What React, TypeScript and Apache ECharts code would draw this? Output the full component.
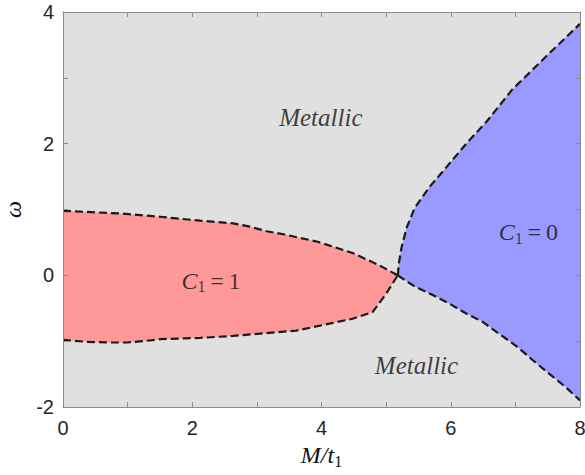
import React, { useEffect, useRef } from 'react';
import * as echarts from 'echarts';

// Phase boundaries (x = M/t1, y = omega)
const redUpperX = [0, 0.88, 1.5, 2.12, 2.63, 2.89, 3.15, 3.43, 3.94, 4.48, 4.9, 5.18];
const redUpperY = [0.98, 0.94, 0.89, 0.83, 0.79, 0.74, 0.67, 0.62, 0.51, 0.34, 0.15, 0];
const redLowerX = [0, 0.37, 0.73, 0.99, 1.24, 1.5, 2.12, 2.63, 3.61, 4.48, 4.79, 5.0, 5.18];
const redLowerY = [-0.98, -1.01, -1.02, -1.02, -1.0, -0.97, -0.95, -0.92, -0.84, -0.66, -0.56, -0.28, 0];
const blueUpperX = [5.18, 5.2, 5.24, 5.32, 5.44, 5.67, 5.93, 6.24, 6.55, 6.95, 7.47, 8];
const blueUpperY = [0, 0.2, 0.43, 0.73, 1.02, 1.34, 1.64, 2.0, 2.33, 2.82, 3.32, 3.82];
const blueLowerX = [5.18, 5.41, 5.72, 5.98, 6.24, 6.5, 6.75, 7.01, 7.27, 7.53, 7.78, 8];
const blueLowerY = [0, -0.15, -0.3, -0.43, -0.58, -0.71, -0.89, -1.07, -1.29, -1.5, -1.7, -1.9];

// Region labels
const labelX = [3.99, 2.29, 7.2, 5.47];
const labelY = [2.4, -0.1, 0.64, -1.37];
const labelText = ['{m|Metallic}', '{i|C}{s|1}{r|\u2009=\u20091}', '{i|C}{s|1}{r|\u2009=\u20090}', '{m|Metallic}'];

// Axes
const xMin = 0, xMax = 8, xStep = 1;
const yMin = -2, yMax = 4, yStep = 1;
const xLabelEvery = 2;
const yLabelEvery = 2;

const zip = (xs: number[], ys: number[]) => xs.map((x, i) => [x, ys[i]]);

const redPoly = [...zip(redUpperX, redUpperY), ...zip(redLowerX, redLowerY).reverse()];
const bluePoly = [...zip(blueUpperX, blueUpperY), ...zip(blueLowerX, blueLowerY).reverse()];

const SERIF = 'Liberation Serif';
const SANS = 'Liberation Sans';
const AXIS_COLOR = '#8c8c8c';
const TEXT_COLOR = '#262626';

const richStyles = {
  m: { fontFamily: SERIF, fontStyle: 'italic', fontSize: 25, verticalAlign: 'top', color: '#111' },
  i: { fontFamily: SERIF, fontStyle: 'italic', fontSize: 24, verticalAlign: 'top', color: '#111' },
  r: { fontFamily: SERIF, fontSize: 24, verticalAlign: 'top', color: '#111' },
  s: { fontFamily: SERIF, fontSize: 16, lineHeight: 26, verticalAlign: 'bottom', color: '#111' },
};

export default function App() {
  const ref = useRef<HTMLDivElement>(null);
  useEffect(() => {
    const chart = echarts.init(ref.current!, null, { renderer: 'svg' });
    const polySeries = (pts: number[][], color: string) => ({
      type: 'custom',
      silent: true,
      z: 1,
      data: [[pts[0][0], pts[0][1]]],
      renderItem: (_p: any, api: any) => ({
        type: 'polygon',
        shape: { points: pts.map((p) => api.coord(p)) },
        style: { fill: color, stroke: 'none' },
      }),
    });
    const dashSeries = (xs: number[], ys: number[]) => ({
      type: 'line',
      data: zip(xs, ys),
      symbol: 'none',
      silent: true,
      z: 3,
      lineStyle: { color: '#1a1a1a', width: 2.2, type: [8, 4] },
    });
    const axisCommon = {
      type: 'value',
      splitLine: { show: false },
      axisLine: { show: true, onZero: false, lineStyle: { color: AXIS_COLOR, width: 1 } },
      axisTick: { show: true, inside: true, length: 5, lineStyle: { color: AXIS_COLOR } },
      z: 10,
    };
    const option = {
      animation: false,
      grid: {
        left: 63, right: 5, top: 12, bottom: 68,
        outerBoundsMode: 'none',
        containLabel: false,
        show: true, backgroundColor: '#e0e0e0', borderWidth: 0,
      },
      xAxis: [
        {
          ...axisCommon,
          position: 'bottom',
          min: xMin, max: xMax, interval: xStep,
          axisLabel: {
            formatter: (v: number) => (v % xLabelEvery === 0 ? String(v) : ''),
            fontFamily: SANS, fontSize: 20, color: TEXT_COLOR, margin: 11,
          },
          name: '{i|M/t}{s|1}',
          nameLocation: 'middle',
          nameGap: 36,
          nameTextStyle: { rich: richStyles },
        },
        {
          ...axisCommon,
          position: 'top',
          min: xMin, max: xMax, interval: xStep,
          axisLabel: { show: false },
        },
      ],
      yAxis: [
        {
          ...axisCommon,
          position: 'left',
          min: yMin, max: yMax, interval: yStep,
          axisLabel: {
            formatter: (v: number) => (v % yLabelEvery === 0 ? String(v) : ''),
            fontFamily: SANS, fontSize: 20, color: TEXT_COLOR, margin: 9,
          },
          name: '\u03C9',
          nameLocation: 'middle',
          nameRotate: 90,
          nameGap: 38,
          nameTextStyle: {
            fontFamily: SERIF, fontStyle: 'italic', fontSize: 24, lineHeight: 22, color: '#111',
          },
        },
        {
          ...axisCommon,
          position: 'right',
          min: yMin, max: yMax, interval: yStep,
          axisLabel: { show: false },
        },
      ],
      series: [
        polySeries(redPoly, '#ff9999'),
        polySeries(bluePoly, '#9999ff'),
        dashSeries(redUpperX, redUpperY),
        dashSeries(redLowerX, redLowerY),
        dashSeries(blueUpperX, blueUpperY),
        dashSeries(blueLowerX, blueLowerY),
        {
          type: 'scatter',
          symbolSize: 0,
          silent: true,
          z: 4,
          data: labelX.map((x, i) => ({
            value: [x, labelY[i]],
            label: {
              show: true,
              position: 'inside',
              formatter: labelText[i],
              rich: richStyles,
            },
          })),
        },
      ],
    };
    chart.setOption(option as any);
    return () => chart.dispose();
  }, []);
  return (
    <div
      ref={ref}
      style={{ position: 'absolute', left: 0, top: 0, width: 585, height: 475 }}
    />
  );
}
